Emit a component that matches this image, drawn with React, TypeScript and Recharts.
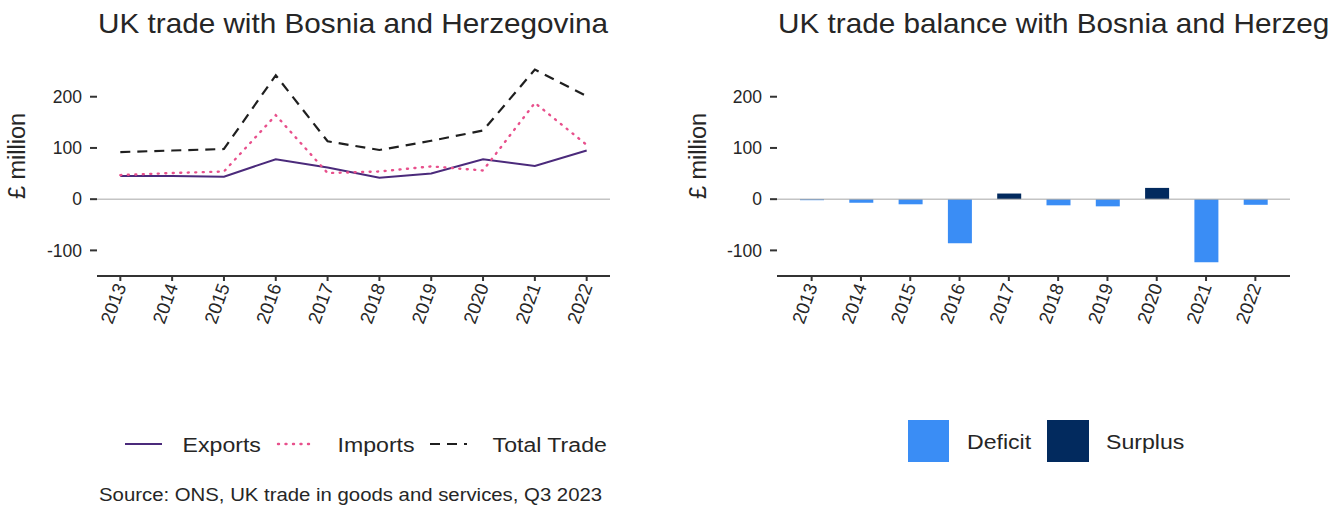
import { LineChart, Line, BarChart, Bar, Cell, XAxis, YAxis, ReferenceLine } from 'recharts';

const years = [2013, 2014, 2015, 2016, 2017, 2018, 2019, 2020, 2021, 2022];
const exportsValues = [45, 45, 44, 78, 62, 42, 50, 78, 65, 95];
const importsValues = [47, 51, 54, 164, 51, 54, 64, 56, 188, 106];
const totalTradeValues = [92, 95, 98, 242, 113, 96, 114, 134, 253, 201];
const balanceValues = [-2, -7, -10, -86, 11, -12, -14, 22, -123, -11];
const yTicks = [-100, 0, 100, 200];

const seriesNames = ['Exports', 'Imports', 'Total Trade'];
const balanceNames = ['Deficit', 'Surplus'];

const FONT = '"Liberation Sans", Arial, sans-serif';
const TEXT = '#262626';
const AXIS = '#333333';
const DEFICIT = '#3A8DF5';
const SURPLUS = '#022A5E';

const lineStyles = [
  { key: 'exports', color: '#4B2A7B', dash: undefined, width: 2, cap: 'butt' },
  { key: 'imports', color: '#E8508C', dash: '1 6.5', width: 2.4, cap: 'round' },
  { key: 'total', color: '#1f1f1f', dash: '10 7', width: 2.2, cap: 'butt' },
];

const tradeData = years.map((year, i) => ({
  year,
  exports: exportsValues[i],
  imports: importsValues[i],
  total: totalTradeValues[i],
}));

const balanceData = years.map((year, i) => ({ year, balance: balanceValues[i] }));

const DOMAIN: [number, number] = [-150, 260];
const MARGIN = { top: 66, right: 30, bottom: 94, left: 0 };

function YearTick({ x, y, payload }: any) {
  return (
    <text
      transform={`translate(${x},${y}) rotate(-70)`}
      textAnchor="end"
      dy="0.35em"
      fontSize={18.5}
      fontFamily={FONT}
      fill={TEXT}
    >
      {payload.value}
    </text>
  );
}

const yAxisProps = {
  type: 'number' as const,
  domain: DOMAIN,
  ticks: yTicks,
  width: 97,
  axisLine: false,
  tickSize: 7,
  tickMargin: 8,
  tickLine: { stroke: AXIS, strokeWidth: 2 },
  tick: { fontSize: 17.5, fill: TEXT, fontFamily: FONT },
  interval: 0 as const,
};

function StretchText({ x, y, size, children, anchor }: any) {
  return (
    <g transform={`translate(${x},${y}) scale(1.1,1)`}>
      <text x={0} y={0} fontSize={size} fontFamily={FONT} fill={TEXT} textAnchor={anchor || 'start'}>
        {children}
      </text>
    </g>
  );
}

export default function App() {
  return (
    <div
      style={{
        position: 'absolute',
        left: 0,
        top: 0,
        width: 1344,
        height: 513,
        overflow: 'hidden',
        background: '#fff',
        fontFamily: FONT,
      }}
    >
      <div style={{ position: 'absolute', left: 0, top: 0 }}>
        <LineChart width={640} height={400} data={tradeData} margin={MARGIN}>
          <XAxis
            type="number"
            dataKey="year"
            domain={[2012.55, 2022.45]}
            ticks={years}
            interval={0}
            height={30}
            axisLine={{ stroke: AXIS, strokeWidth: 2 }}
            tickLine={{ stroke: AXIS, strokeWidth: 2 }}
            tickSize={5}
            tickMargin={3}
            tick={<YearTick />}
          />
          <YAxis {...yAxisProps} />
          <ReferenceLine y={0} stroke="#a6a6a6" strokeWidth={1} />
          {lineStyles.map((s) => (
            <Line
              key={s.key}
              type="linear"
              dataKey={s.key}
              stroke={s.color}
              strokeWidth={s.width}
              strokeDasharray={s.dash}
              strokeLinecap={s.cap as any}
              dot={false}
              isAnimationActive={false}
            />
          ))}
        </LineChart>
      </div>

      <div style={{ position: 'absolute', left: 680, top: 0 }}>
        <BarChart width={640} height={400} data={balanceData} margin={MARGIN}>
          <XAxis
            type="category"
            dataKey="year"
            padding={{ left: 10, right: 10 }}
            interval={0}
            height={30}
            axisLine={{ stroke: AXIS, strokeWidth: 2 }}
            tickLine={{ stroke: AXIS, strokeWidth: 2 }}
            tickSize={5}
            tickMargin={3}
            tick={<YearTick />}
          />
          <YAxis {...yAxisProps} />
          <ReferenceLine y={0} stroke="#a6a6a6" strokeWidth={1} />
          <Bar dataKey="balance" barSize={24} isAnimationActive={false}>
            {balanceData.map((d) => (
              <Cell key={d.year} fill={d.balance < 0 ? DEFICIT : SURPLUS} />
            ))}
          </Bar>
        </BarChart>
      </div>

      <svg
        width={1344}
        height={513}
        style={{ position: 'absolute', left: 0, top: 0, pointerEvents: 'none' }}
      >
        <StretchText x={98} y={33.3} size={27}>
          UK trade with Bosnia and Herzegovina
        </StretchText>
        {/* the source figure cuts this title at the panel edge */}
        <StretchText x={778} y={33.3} size={27}>
          UK trade balance with Bosnia and Herzeg
        </StretchText>

        <text transform="translate(25,156) rotate(-90)" textAnchor="middle" fontSize={23.5} fontFamily={FONT} fill={TEXT}>
          £ million
        </text>
        <text transform="translate(706,156) rotate(-90)" textAnchor="middle" fontSize={23.5} fontFamily={FONT} fill={TEXT}>
          £ million
        </text>

        {/* legend, left */}
        {lineStyles.map((s, i) => {
          const keyX = [125, 278, 430][i];
          const textX = [182.6, 337.6, 492.6][i];
          return (
            <g key={s.key}>
              <line
                x1={keyX}
                x2={keyX + 37}
                y1={444}
                y2={444}
                stroke={s.color}
                strokeWidth={s.width}
                strokeDasharray={s.dash}
                strokeLinecap={s.cap as any}
              />
              <StretchText x={textX} y={451.7} size={21}>
                {seriesNames[i]}
              </StretchText>
            </g>
          );
        })}

        {/* legend, right */}
        <rect x={908} y={420} width={41} height={42} fill={DEFICIT} />
        <StretchText x={967} y={449} size={21}>
          {balanceNames[0]}
        </StretchText>
        <rect x={1047} y={420} width={42} height={42} fill={SURPLUS} />
        <StretchText x={1106} y={449} size={21}>
          {balanceNames[1]}
        </StretchText>

        <StretchText x={99} y={501} size={18.5}>
          Source: ONS, UK trade in goods and services, Q3 2023
        </StretchText>
      </svg>
    </div>
  );
}
